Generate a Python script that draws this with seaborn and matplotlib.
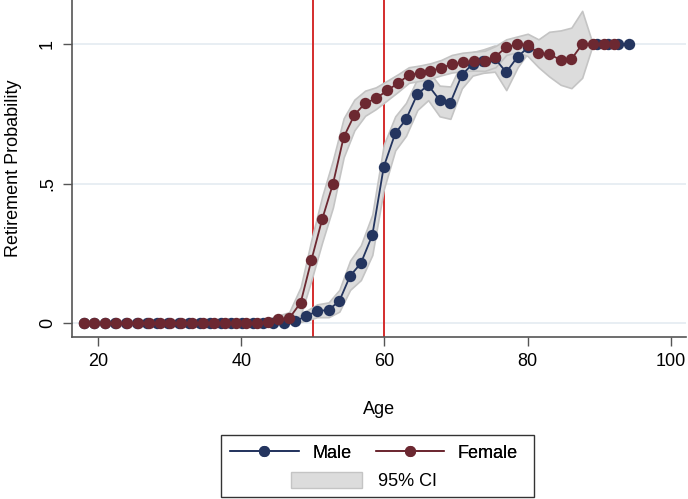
import numpy as np
import pandas as pd
import matplotlib
matplotlib.use('Agg')
import matplotlib.pyplot as plt
from matplotlib.lines import Line2D
from matplotlib.patches import Patch, Rectangle
import seaborn as sns

sns.set_theme(style='ticks')
plt.rcParams['font.family'] = ['Liberation Sans', 'DejaVu Sans']
plt.rcParams['text.color'] = 'black'
plt.rcParams['axes.labelcolor'] = 'black'

# Female series (age, probability, 95% CI)
female_age = [18.0, 19.5, 21.0, 22.5, 24.1, 25.6, 27.1, 28.6, 30.1, 31.6,
              33.1, 34.6, 36.2, 37.7, 39.2, 40.7, 42.2, 43.7, 45.2, 46.7,
              48.3, 49.8, 51.3, 52.8, 54.3, 55.8, 57.3, 58.8, 60.4, 61.9,
              63.4, 64.9, 66.4, 67.9, 69.4, 70.9, 72.5, 74.0, 75.5, 77.0,
              78.5, 80.0, 81.5, 83.0, 84.6, 86.1, 87.6, 89.1, 90.6, 92.1]
female_prob = [0, 0, 0, 0, 0, 0, 0, 0, 0, 0,
               0, 0, 0, 0, 0, 0, 0, 0.006, 0.014, 0.018,
               0.074, 0.227, 0.373, 0.499, 0.667, 0.747, 0.789, 0.806, 0.835, 0.861,
               0.890, 0.896, 0.904, 0.916, 0.928, 0.935, 0.940, 0.941, 0.956, 0.990,
               1.0, 0.998, 0.968, 0.965, 0.944, 0.947, 1.0, 1.0, 1.0, 1.0]
female_lo = [0, 0, 0, 0, 0, 0, 0, 0, 0, 0,
             0, 0, 0, 0, 0, 0, 0, 0.0, 0.002, 0.0,
             0.03, 0.155, 0.29, 0.415, 0.595, 0.692, 0.744, 0.768, 0.800, 0.830,
             0.862, 0.869, 0.877, 0.889, 0.899, 0.904, 0.906, 0.905, 0.918, 0.962,
             0.972, 0.958, 0.918, 0.885, 0.855, 0.843, 0.880, 1.0, 1.0, 1.0]
female_hi = [0.003, 0.003, 0.003, 0.003, 0.003, 0.003, 0.003, 0.003, 0.003, 0.003,
             0.003, 0.003, 0.003, 0.003, 0.003, 0.003, 0.005, 0.016, 0.028, 0.04,
             0.13, 0.30, 0.455, 0.585, 0.735, 0.802, 0.834, 0.846, 0.870, 0.893,
             0.918, 0.924, 0.932, 0.944, 0.962, 0.970, 0.974, 0.977, 0.994, 1.018,
             1.028, 1.038, 1.018, 1.045, 1.050, 1.060, 1.120, 1.0, 1.0, 1.0]

# Male series (no observations between ~80 and ~89)
male_age = [18.0, 19.5, 21.0, 22.4, 23.9, 25.4, 26.8, 28.3, 29.8, 31.3,
            32.7, 34.2, 35.7, 37.2, 38.6, 40.1, 41.6, 43.1, 44.5, 46.0,
            47.5, 49.1, 50.6, 52.2, 53.7, 55.2, 56.7, 58.3, 59.9, 61.5,
            63.0, 64.6, 66.1, 67.7, 69.2, 70.8, 72.3, 73.8, 75.4, 77.0,
            78.6, 80.1, 89.7, 91.2, 92.6, 94.1]
male_prob = [0, 0, 0, 0, 0, 0, 0, 0, 0, 0,
             0, 0, 0, 0, 0, 0, 0, 0, 0, 0,
             0.008, 0.026, 0.044, 0.048, 0.08, 0.17, 0.215, 0.316, 0.561, 0.681,
             0.731, 0.822, 0.854, 0.80, 0.791, 0.89, 0.93, 0.94, 0.95, 0.90,
             0.956, 0.99, 1.0, 1.0, 1.0, 1.0]
male_lo = [0, 0, 0, 0, 0, 0, 0, 0, 0, 0,
           0, 0, 0, 0, 0, 0, 0, 0, 0, 0,
           0.0, 0.010, 0.022, 0.022, 0.042, 0.12, 0.155, 0.245, 0.48, 0.62,
           0.672, 0.765, 0.800, 0.742, 0.733, 0.842, 0.888, 0.898, 0.902, 0.836,
           0.918, 0.972, 1.0, 1.0, 1.0, 1.0]
male_hi = [0.003, 0.003, 0.003, 0.003, 0.003, 0.003, 0.003, 0.003, 0.003, 0.003,
           0.003, 0.003, 0.003, 0.003, 0.003, 0.003, 0.003, 0.003, 0.006, 0.012,
           0.022, 0.045, 0.068, 0.075, 0.12, 0.225, 0.28, 0.39, 0.64, 0.742,
           0.79, 0.878, 0.905, 0.852, 0.849, 0.936, 0.972, 0.982, 0.996, 0.964,
           0.992, 1.006, 1.0, 1.0, 1.0, 1.0]
male_seg = [0] * 42 + [1] * 4

cutoff_ages = [50, 60]
x_ticks = [20, 40, 60, 80, 100]
y_ticks = [0, 0.5, 1]
y_ticklabels = ['0', '.5', '1']

male_df = pd.DataFrame({'age': male_age, 'prob': male_prob, 'lo': male_lo,
                        'hi': male_hi, 'seg': male_seg})
female_df = pd.DataFrame({'age': female_age, 'prob': female_prob,
                          'lo': female_lo, 'hi': female_hi, 'seg': 0})

navy = '#24355f'
maroon = '#6c2831'
band_face = '#dcdcdc'
band_edge = '#c4c4c4'

fig = plt.figure(figsize=(6.88, 4.99), dpi=100)
ax = fig.add_axes([72 / 688, 1 - 337 / 499, 614 / 688, 337 / 499])

ax.set_xlim(16.37, 102.1)
ax.set_ylim(-0.049, 1.159)

# grid + reference lines underneath
for yv in y_ticks:
    ax.axhline(yv, color='#e6edf2', lw=1.3, zorder=0)
for xv in cutoff_ages:
    ax.axvline(xv, color='#d42c2c', lw=1.4, zorder=1)

# confidence bands
for df in (male_df, female_df):
    for _, g in df.groupby('seg'):
        ax.fill_between(g['age'], g['lo'], g['hi'], facecolor=band_face,
                        edgecolor=band_edge, lw=1.2, zorder=2)

sns.lineplot(data=male_df, x='age', y='prob', units='seg', estimator=None,
             sort=False, color=navy, marker='o', markersize=8.2,
             markeredgewidth=0, linewidth=1.3, ax=ax, zorder=4, legend=False)
sns.lineplot(data=female_df, x='age', y='prob', units='seg', estimator=None,
             sort=False, color=maroon, marker='o', markersize=8.2,
             markeredgewidth=0, linewidth=1.3, ax=ax, zorder=5, legend=False)

ax.set_xticks(x_ticks)
ax.set_yticks(y_ticks)
ax.set_yticklabels(y_ticklabels, rotation=90, va='center')
ax.tick_params(axis='both', length=6.5, width=1, color='#555555',
               labelsize=13, pad=5, labelcolor='black')
for side in ['top', 'right']:
    ax.spines[side].set_visible(False)
for side in ['left', 'bottom']:
    ax.spines[side].set_color('#555555')
    ax.spines[side].set_linewidth(1.2)

ax.set_xlabel('Age', fontsize=13, labelpad=22)
ax.set_ylabel('Retirement Probability', fontsize=13, labelpad=12)

# legend: two rows inside one frame
h_male = Line2D([], [], color=navy, marker='o', markersize=8, lw=1.3,
                markeredgewidth=0)
h_female = Line2D([], [], color=maroon, marker='o', markersize=8, lw=1.3,
                  markeredgewidth=0)
h_ci = Patch(facecolor=band_face, edgecolor=band_edge, lw=1)

leg1 = fig.legend([h_male, h_female], ['Male', 'Female'], ncol=2,
                  loc='center', bbox_to_anchor=(374 / 688, 1 - 453 / 499),
                  frameon=False, fontsize=13, handlelength=3.8,
                  handletextpad=0.75, columnspacing=1.35, borderpad=0,
                  borderaxespad=0)
leg2 = fig.legend([h_ci], ['95% CI'], loc='center',
                  bbox_to_anchor=(364 / 688, 1 - 481 / 499), frameon=False,
                  fontsize=13, handlelength=3.9, handleheight=1.05,
                  handletextpad=0.9, borderpad=0, borderaxespad=0)
fig.add_artist(leg1)
fig.patches.append(Rectangle((221 / 688, 2 / 499), 313 / 688, 62 / 499,
                             transform=fig.transFigure, fill=False,
                             edgecolor='#333333', lw=1))

fig.savefig('out.png', dpi=100)
plt.close()
